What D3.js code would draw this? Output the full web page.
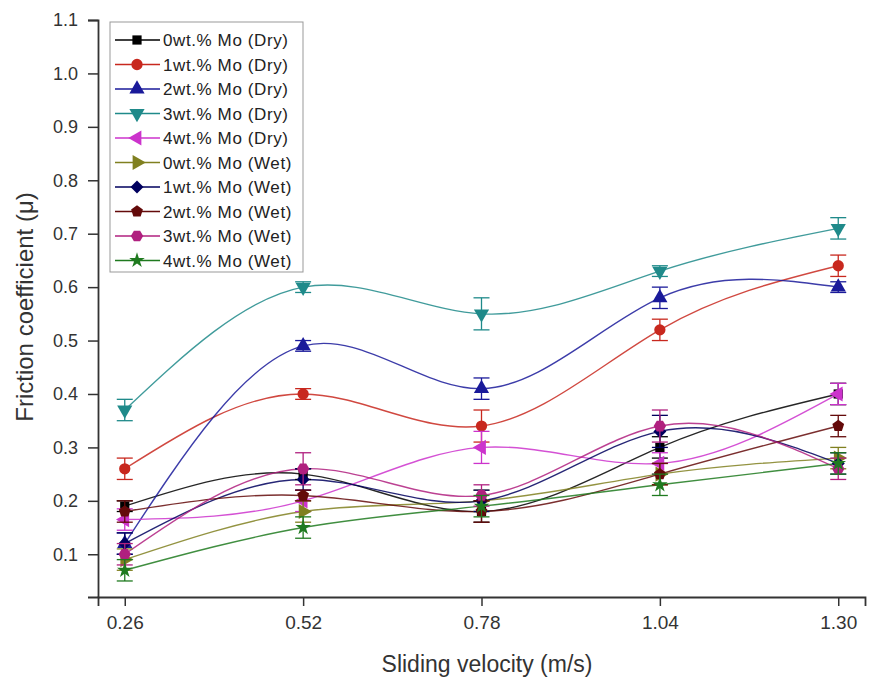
<!DOCTYPE html>
<html>
<head>
<meta charset="utf-8">
<script src="https://cdn.jsdelivr.net/npm/d3@7"></script>
<style>
body { margin: 0; background: #fff; }
svg { font-family: "Liberation Sans", Arial, sans-serif; }
</style>
</head>
<body>
<div id="chart"></div>
<script>
// data
var velocity = [0.26, 0.52, 0.78, 1.04, 1.30];
var tickLabels = ["0.26", "0.52", "0.78", "1.04", "1.30"];
var yTicks = [0.1, 0.2, 0.3, 0.4, 0.5, 0.6, 0.7, 0.8, 0.9, 1.0, 1.1];

var names = ["0wt.% Mo (Dry)", "1wt.% Mo (Dry)", "2wt.% Mo (Dry)", "3wt.% Mo (Dry)", "4wt.% Mo (Dry)",
             "0wt.% Mo (Wet)", "1wt.% Mo (Wet)", "2wt.% Mo (Wet)", "3wt.% Mo (Wet)", "4wt.% Mo (Wet)"];
var colors = ["#000000", "#c8281e", "#1a1a9a", "#1f8a8a", "#cc33cc",
              "#808020", "#00005e", "#640a0a", "#b0207f", "#1f7a1f"];
var symbols = ["square", "circle", "up", "down", "left", "right", "diamond", "pentagon", "hexagon", "star"];

var dry0 = [0.19, 0.25, 0.18, 0.30, 0.40];
var dry1 = [0.26, 0.40, 0.34, 0.52, 0.64];
var dry2 = [0.12, 0.49, 0.41, 0.58, 0.60];
var dry3 = [0.37, 0.60, 0.55, 0.63, 0.71];
var dry4 = [0.165, 0.20, 0.30, 0.27, 0.40];
var wet0 = [0.09, 0.18, 0.20, 0.25, 0.28];
var wet1 = [0.12, 0.24, 0.20, 0.33, 0.27];
var wet2 = [0.18, 0.21, 0.18, 0.25, 0.34];
var wet3 = [0.10, 0.26, 0.21, 0.34, 0.26];
var wet4 = [0.07, 0.15, 0.19, 0.23, 0.27];

var err0 = [0.01, 0.01, 0.02, 0.02, 0.02];
var err1 = [0.02, 0.01, 0.03, 0.02, 0.02];
var err2 = [0.02, 0.01, 0.02, 0.02, 0.01];
var err3 = [0.02, 0.01, 0.03, 0.01, 0.02];
var err4 = [0.02, 0.02, 0.03, 0.02, 0.02];
var err5 = [0.02, 0.02, 0.02, 0.02, 0.02];
var err6 = [0.02, 0.02, 0.02, 0.03, 0.02];
var err7 = [0.02, 0.01, 0.02, 0.02, 0.02];
var err8 = [0.02, 0.03, 0.02, 0.03, 0.02];
var err9 = [0.02, 0.02, 0.02, 0.02, 0.02];

var values = [dry0, dry1, dry2, dry3, dry4, wet0, wet1, wet2, wet3, wet4];
var errors = [err0, err1, err2, err3, err4, err5, err6, err7, err8, err9];

// set the dimensions and margins of the graph
var margin = {top: 20, right: 5, bottom: 85, left: 98},
    width = 870 - margin.left - margin.right,
    height = 682 - margin.top - margin.bottom;

var x = d3.scaleLinear().domain([0.221, 1.339]).range([0, width]);
var y = d3.scaleLinear().domain([0.02, 1.1]).range([height, 0]);

var svg = d3.select("#chart").append("svg")
  .attr("width", width + margin.left + margin.right)
  .attr("height", height + margin.top + margin.bottom)
  .append("g")
  .attr("transform", "translate(" + margin.left + "," + margin.top + ")");

// marker shapes
function polygon(n, r, rot) {
  var pts = [];
  for (var i = 0; i < n; i++) {
    var a = rot + i * 2 * Math.PI / n;
    pts.push([r * Math.cos(a), r * Math.sin(a)]);
  }
  return "M" + pts.map(function(p) { return p[0].toFixed(2) + "," + p[1].toFixed(2); }).join("L") + "Z";
}
function markerPath(s) {
  var tri = d3.symbol().type(d3.symbolTriangle).size(100)();
  switch (s) {
    case "square": return {d: d3.symbol().type(d3.symbolSquare).size(85)(), rot: 0};
    case "circle": return {d: d3.symbol().type(d3.symbolCircle).size(100)(), rot: 0};
    case "up": return {d: tri, rot: 0};
    case "down": return {d: tri, rot: 180};
    case "left": return {d: tri, rot: -90};
    case "right": return {d: tri, rot: 90};
    case "diamond": return {d: polygon(4, 6.5, 0), rot: 0};
    case "pentagon": return {d: polygon(5, 6.2, -Math.PI / 2), rot: 0};
    case "hexagon": return {d: polygon(6, 6.2, 0), rot: 0};
    case "star": return {d: d3.symbol().type(d3.symbolStar).size(75)(), rot: 0};
  }
}

// axes
var yAxis = svg.append("g")
  .call(d3.axisLeft(y).tickValues(yTicks).tickFormat(d3.format(".1f")).tickSizeOuter(0).tickSize(10));
var xAxis = svg.append("g")
  .attr("transform", "translate(0," + height + ")")
  .call(d3.axisBottom(x).tickValues(velocity).tickFormat(function(d, i) { return tickLabels[i]; }).tickSizeOuter(0).tickSize(9));

[yAxis, xAxis].forEach(function(a) {
  a.select(".domain").attr("stroke", "#333").attr("stroke-width", 1.8);
  a.selectAll(".tick line").attr("stroke", "#333").attr("stroke-width", 1.5);
  a.selectAll("text").attr("fill", "#333");
});
yAxis.selectAll("text").attr("x", -20).style("font-size", "18px");
xAxis.selectAll("text").attr("y", 19).style("font-size", "19px");

svg.append("text")
  .attr("transform", "rotate(-90)")
  .attr("x", -287)
  .attr("y", -65)
  .attr("text-anchor", "middle")
  .attr("fill", "#333")
  .style("font-size", "24px")
  .text("Friction coefficient (\u03bc)");

svg.append("text")
  .attr("x", 487 - margin.left)
  .attr("y", height + 75)
  .attr("text-anchor", "middle")
  .attr("fill", "#333")
  .style("font-size", "23px")
  .text("Sliding velocity (m/s)");

// lines
var line = d3.line()
  .x(function(d) { return x(d[0]); })
  .y(function(d) { return y(d[1]); })
  .curve(d3.curveNatural);

values.forEach(function(vals, k) {
  var pts = vals.map(function(v, i) { return [velocity[i], v]; });
  svg.append("path")
    .datum(pts)
    .attr("fill", "none")
    .attr("stroke", colors[k])
    .attr("stroke-opacity", 0.85)
    .attr("stroke-width", 1.4)
    .attr("d", line);
});

// error bars and markers
values.forEach(function(vals, k) {
  var g = svg.append("g");
  var m = markerPath(symbols[k]);
  vals.forEach(function(v, i) {
    var cx = x(velocity[i]), e = errors[k][i];
    var y1 = y(v + e), y2 = y(v - e);
    g.append("line").attr("x1", cx).attr("x2", cx).attr("y1", y1).attr("y2", y2)
      .attr("stroke", colors[k]).attr("stroke-width", 1.3);
    [y1, y2].forEach(function(yy) {
      g.append("line").attr("x1", cx - 8).attr("x2", cx + 8).attr("y1", yy).attr("y2", yy)
        .attr("stroke", colors[k]).attr("stroke-width", 1.3);
    });
    g.append("path")
      .attr("d", m.d)
      .attr("transform", "translate(" + cx + "," + y(v) + ") rotate(" + m.rot + ")")
      .attr("fill", colors[k]);
  });
});

// legend
var legend = svg.append("g").attr("transform", "translate(12,2)");
legend.append("rect")
  .attr("width", 193).attr("height", 250)
  .attr("fill", "#fff").attr("stroke", "#999").attr("stroke-width", 1);

names.forEach(function(n, k) {
  var ly = 18 + k * 24.5;
  var m = markerPath(symbols[k]);
  legend.append("line").attr("x1", 5).attr("x2", 50).attr("y1", ly).attr("y2", ly)
    .attr("stroke", colors[k]).attr("stroke-width", 1.6);
  legend.append("path").attr("d", m.d)
    .attr("transform", "translate(27," + ly + ") rotate(" + m.rot + ")")
    .attr("fill", colors[k]);
  legend.append("text").attr("x", 53).attr("y", ly + 6)
    .attr("fill", "#222").style("font-size", "17px").style("letter-spacing", "0.6px")
    .text(n);
});
</script>
</body>
</html>
